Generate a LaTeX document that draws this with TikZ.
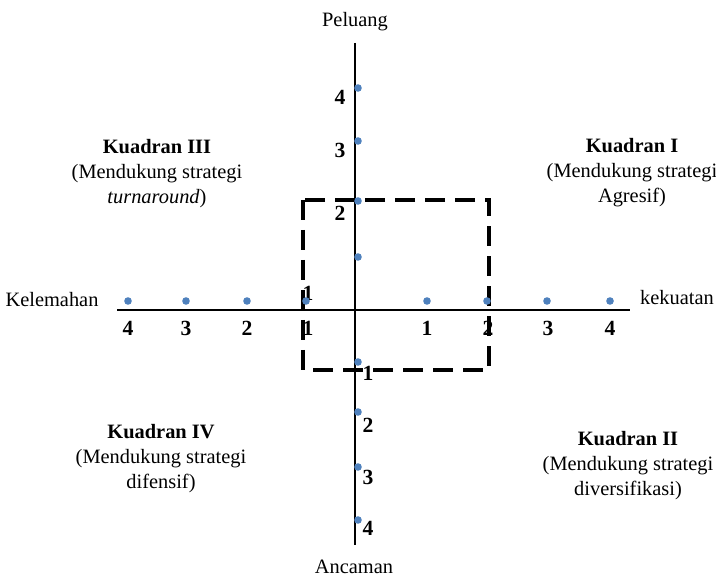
\documentclass[tikz,border=0pt]{standalone}
\usepackage{fontspec}
\setmainfont{Liberation Serif}
\usetikzlibrary{positioning}
\definecolor{dotblue}{RGB}{79,129,189}

\begin{document}
\begin{tikzpicture}[x=0.5pt,y=-0.5pt,
  every node/.style={font=\fontsize{10.2}{12.5}\selectfont,inner sep=0pt},
  num/.style={font=\fontsize{10.8}{12.5}\selectfont\bfseries},
  pt/.style={circle,fill=dotblue,inner sep=0pt,minimum size=3.8pt},
  kuadran/.style={align=center},
  axis/.style={line width=1pt},
  box/.style={line width=2pt,dash pattern=on 10pt off 5pt}]
\useasboundingbox (0,0) rectangle (716,576);

% Axis labels
\node (peluang) at (355,22) {Peluang};
\node (ancaman) at (354,567) {Ancaman};
\node (kelemahan) at (52,300) {Kelemahan};
\node (kekuatan) at (677,298) {kekuatan};

% Axes
\coordinate (atas) at (355,43);
\coordinate (bawah) at (355,545);
\coordinate (kiri) at (117,310);
\coordinate (kanan) at (630,310);
\draw[axis] (atas)--(bawah);
\draw[axis] (kiri)--(kanan);

% Quadrants
\node[kuadran] (k3) at (157,174) {\textbf{Kuadran III}\\(Mendukung strategi\\\textit{turnaround})};
\node[kuadran] (k1) at (632,173) {\textbf{Kuadran I}\\(Mendukung strategi\\Agresif)};
\node[kuadran] (k4) at (161,459) {\textbf{Kuadran IV}\\(Mendukung strategi\\difensif)};
\node[kuadran] (k2) at (628,466) {\textbf{Kuadran II}\\(Mendukung strategi\\diversifikasi)};

% Scale numbers
\foreach \x/\n in {128/4,186/3,247/2,308/1,427/1,488/2,548/3,610/4}
  \node[num] (nx\x) at (\x,328) {\n};
\node[num] (nx1b) at (308,293) {1};
\foreach \y/\n in {97/4,150/3,213/2}
  \node[num] (ny\y) at (340,\y) {\n};
\foreach \y/\n in {373/1,425/2,477/3,528/4}
  \node[num] (ny\y) at (368,\y) {\n};

% Dashed box
\draw[box] (303,200) rectangle (489,370);

% Points
\foreach \x in {128,186,247,306,427,487,547,610}
  \node[pt] (px\x) at (\x,301) {};
\foreach \y in {88,141,201,257,362,412,467,520}
  \node[pt] (py\y) at (358,\y) {};

\end{tikzpicture}
\end{document}
